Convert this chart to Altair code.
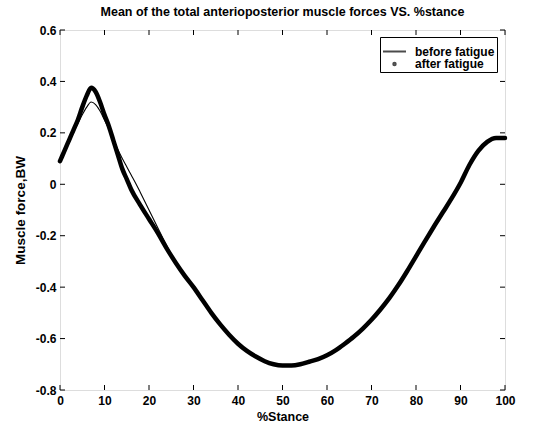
import altair as alt
import pandas as pd

# ---- data ----
x_after = [0, 1, 2, 3, 4, 5, 6, 7, 8, 9, 10, 11, 12, 13, 14, 15, 16, 18, 20, 22, 24, 26, 28, 30,
           32, 34, 36, 38, 40, 42, 44, 46, 48, 50, 52, 54, 56, 58, 60, 62, 64, 66, 68, 70, 72,
           74, 76, 78, 80, 82, 84, 86, 88, 90, 92, 94, 96, 98, 100]
y_after = [0.09, 0.13, 0.17, 0.21, 0.25, 0.30, 0.345, 0.375, 0.36, 0.32, 0.27, 0.225, 0.17, 0.115,
           0.06, 0.02, -0.02, -0.08, -0.135, -0.19, -0.25, -0.305, -0.355, -0.40, -0.45, -0.50,
           -0.545, -0.585, -0.62, -0.648, -0.67, -0.688, -0.70, -0.705, -0.705, -0.70, -0.69,
           -0.68, -0.665, -0.645, -0.62, -0.593, -0.562, -0.527, -0.487, -0.443, -0.393, -0.338,
           -0.28, -0.222, -0.165, -0.11, -0.055, 0.005, 0.075, 0.13, 0.165, 0.18, 0.18]

x_before = [0, 1, 2, 3, 4, 5, 6, 7, 8, 9, 10, 11, 12, 13, 14, 15, 16, 17, 18, 20, 22, 24, 26, 28,
            30, 32, 34, 36, 38, 40, 42, 44, 46, 48, 50, 52, 54, 56, 58, 60, 62, 64, 66, 68, 70,
            72, 74, 76, 78, 80, 82, 84, 86, 88, 90, 92, 94, 96, 98, 100]
y_before = [0.09, 0.125, 0.16, 0.20, 0.235, 0.27, 0.30, 0.32, 0.31, 0.285, 0.25, 0.215, 0.175,
            0.135, 0.10, 0.068, 0.036, 0.004, -0.03, -0.10, -0.17, -0.24, -0.30, -0.352, -0.40,
            -0.45, -0.50, -0.542, -0.582, -0.617, -0.646, -0.668, -0.686, -0.698, -0.703, -0.703,
            -0.70, -0.692, -0.68, -0.665, -0.645, -0.62, -0.592, -0.56, -0.525, -0.485, -0.44,
            -0.39, -0.335, -0.277, -0.22, -0.163, -0.108, -0.052, 0.008, 0.077, 0.13, 0.165,
            0.18, 0.18]

x_ticks = [0, 10, 20, 30, 40, 50, 60, 70, 80, 90, 100]
y_ticks = [-0.8, -0.6, -0.4, -0.2, 0, 0.2, 0.4, 0.6]
series_names = ["before fatigue", "after fatigue"]

df_after = pd.DataFrame({"x": x_after, "y": y_after, "series": series_names[1]})
df_before = pd.DataFrame({"x": x_before, "y": y_before, "series": series_names[0]})
df_xt = pd.DataFrame({"x": x_ticks})
df_yt = pd.DataFrame({"y": y_ticks})

FONT = "Liberation Sans"
W, H = 445, 360
TS = 5  # inward tick length

xscale = alt.Scale(domain=[0, 100], nice=False, zero=False)
yscale = alt.Scale(domain=[-0.8, 0.6], nice=False, zero=False)

legend = alt.Legend(
    title=None,
    orient="none",
    legendX=320,
    legendY=7,
    direction="vertical",
    strokeColor="black",
    fillColor="white",
    padding=2,
    labelFont=FONT,
    labelFontSize=12,
    labelFontWeight="bold",
    labelColor="black",
    labelOffset=8,
    symbolStrokeWidth=2,
    symbolStrokeColor="black",
    rowPadding=0,
)

axis_common = dict(
    grid=False,
    domain=False,
    ticks=False,
    labelFont=FONT,
    labelFontSize=12,
    labelFontWeight="bold",
    labelColor="black",
    titleFont=FONT,
    titleFontWeight="bold",
    titleColor="black",
)

x_bottom = alt.Axis(values=x_ticks, title="%Stance", labelPadding=5, titlePadding=4,
                    titleFontSize=12.5, labelFlush=False, labelOverlap=False, **axis_common)
y_left = alt.Axis(values=y_ticks, title="Muscle force,BW", labelPadding=4, titlePadding=8,
                  titleFontSize=13.5, labelExpr="'' + datum.value", labelOverlap=False,
                  **axis_common)

after = alt.Chart(df_after).mark_line(strokeWidth=4.5, strokeJoin="round", strokeCap="round",
                                      interpolate="monotone").encode(
    x=alt.X("x:Q", scale=xscale, axis=x_bottom),
    y=alt.Y("y:Q", scale=yscale, axis=y_left),
    color=alt.value("black"),
)

before = alt.Chart(df_before).mark_line(strokeWidth=1.1, interpolate="monotone").encode(
    x=alt.X("x:Q", scale=xscale, axis=None),
    y=alt.Y("y:Q", scale=yscale, axis=None),
    color=alt.value("black"),
)

# inward tick marks on all four sides (MATLAB style box)
xt_bottom = alt.Chart(df_xt).mark_rule(color="black", strokeWidth=1).encode(
    x=alt.X("x:Q", scale=xscale, axis=None), y=alt.value(H), y2=alt.value(H - TS))
xt_top = alt.Chart(df_xt).mark_rule(color="black", strokeWidth=1).encode(
    x=alt.X("x:Q", scale=xscale, axis=None), y=alt.value(0), y2=alt.value(TS))
yt_left = alt.Chart(df_yt).mark_rule(color="black", strokeWidth=1).encode(
    y=alt.Y("y:Q", scale=yscale, axis=None), x=alt.value(0), x2=alt.value(TS))
yt_right = alt.Chart(df_yt).mark_rule(color="black", strokeWidth=1).encode(
    y=alt.Y("y:Q", scale=yscale, axis=None), x=alt.value(W), x2=alt.value(W - TS))

# legend-only layer (no rows survive the filter; the legend comes from the explicit domains)
legend_layer = alt.Chart(df_before).mark_point(filled=False, strokeWidth=2).transform_filter(
    "datum.x < -1000"
).encode(
    x=alt.X("x:Q", scale=xscale, axis=None),
    y=alt.Y("y:Q", scale=yscale, axis=None),
    color=alt.Color("series:N", scale=alt.Scale(domain=series_names, range=["black", "black"]),
                    legend=legend),
    shape=alt.Shape("series:N", scale=alt.Scale(domain=series_names, range=["stroke", "circle"]),
                    legend=legend),
    size=alt.Size("series:N", scale=alt.Scale(domain=series_names, range=[529, 6]),
                  legend=legend),
)

chart = (
    alt.layer(after, before, xt_bottom, xt_top, yt_left, yt_right, legend_layer)
    .resolve_axis(x="independent", y="independent")
    .properties(
        width=W,
        height=H,
        autosize=alt.AutoSizeParams(type="none"),
        padding={"left": 60, "top": 30, "right": 31, "bottom": 37},
        title=alt.TitleParams(
            "Mean of the total anterioposterior muscle forces VS. %stance",
            font=FONT, fontSize=12.5, fontWeight="bold", color="black",
            anchor="middle", offset=6,
        ),
    )
    .configure_view(stroke="black", strokeWidth=1)
    .configure(background="white")
)

chart.save("out.html", embed_options={"renderer": "svg", "actions": False})
